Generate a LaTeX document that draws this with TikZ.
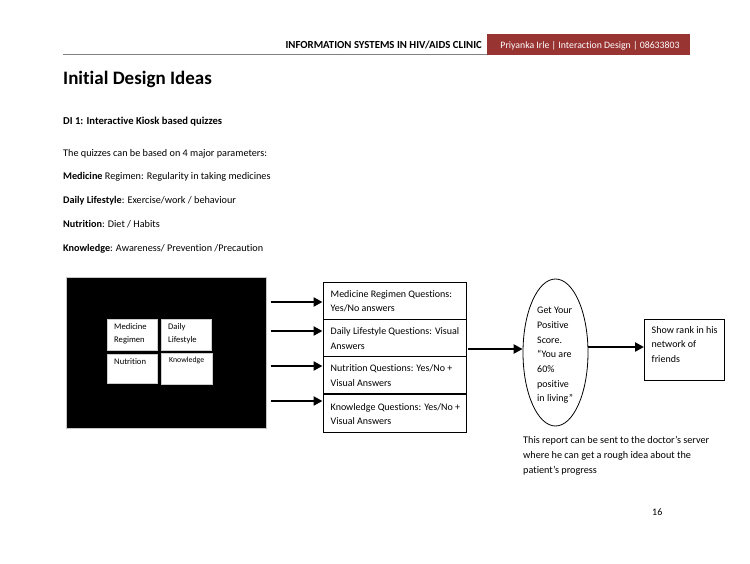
\documentclass[tikz,border=0pt]{standalone}
\usepackage{fontspec}
\setmainfont{Carlito}[Ligatures=NoCommon]
\usetikzlibrary{arrows.meta,shapes.geometric}
\definecolor{hdrred}{RGB}{152,52,50}
\begin{document}
\begin{tikzpicture}[x=1pt,y=-1pt,
  txt/.style={anchor=base west,inner sep=0pt,font=\fontsize{10.2}{12}\selectfont},
  qbox/.style={draw,line width=0.8pt,minimum width=143pt,minimum height=37pt,anchor=north west,inner sep=0pt},
  qtxt/.style={anchor=west,inner sep=0pt,align=left,font=\fontsize{10}{14.5}\selectfont},
  wbox/.style={fill=white,draw=gray!40,line width=0.4pt,anchor=north west,inner sep=0pt},
  btxt/.style={anchor=north west,inner sep=0pt,align=left,font=\fontsize{8.6}{13}\selectfont},
  arr/.style={line width=2.6pt,-{Triangle[length=9pt,width=9pt]}}
]
\useasboundingbox (0,0) rectangle (750,563);
% header
\draw[gray,line width=0.8pt] (63,54.5) -- (487,54.5);
\node[anchor=base east,inner sep=0pt,font=\fontsize{10.8}{12}\selectfont\bfseries] (hdr) at (482,48.5) {INFORMATION SYSTEMS IN HIV/AIDS CLINIC};
\node[fill=hdrred,anchor=north west,minimum width=203pt,minimum height=21pt,inner sep=0pt] (red) at (487,34) {};
\node[anchor=base,inner sep=0pt,text=white,font=\fontsize{9.8}{11}\selectfont] (redtxt) at (590,48.5) {Priyanka Irle | Interaction Design | 08633803};
% title and text
\node[anchor=base west,inner sep=0pt,font=\fontsize{19}{21}\selectfont\bfseries] (title) at (63,84) {Initial Design Ideas};
\node[anchor=base west,inner sep=0pt,font=\fontsize{10.6}{12}\selectfont\bfseries] (di) at (63,124) {DI 1: Interactive Kiosk based quizzes};
\node[txt] (l1) at (63,156) {The quizzes can be based on 4 major parameters:};
\node[txt] (l2) at (63,179) {\textbf{Medicine} Regimen: Regularity in taking medicines};
\node[txt] (l3) at (63,203) {\textbf{Daily Lifestyle}: Exercise/work / behaviour};
\node[txt] (l4) at (63,227) {\textbf{Nutrition}: Diet / Habits};
\node[txt] (l5) at (63,251) {\textbf{Knowledge}: Awareness/ Prevention /Precaution};
% kiosk
\node[fill=black,draw=gray!45,line width=1pt,anchor=north west,minimum width=200pt,minimum height=151pt,inner sep=0pt] (kiosk) at (66,277) {};
\node[wbox,minimum width=50pt,minimum height=31pt] (b1) at (107,319) {};
\node[wbox,minimum width=50pt,minimum height=31pt] (b2) at (161,319) {};
\node[wbox,minimum width=50pt,minimum height=29pt] (b3) at (107,354) {};
\node[wbox,minimum width=51pt,minimum height=31pt] (b4) at (161,353) {};
\node[btxt] (t1) at (114,323) {Medicine\\Regimen};
\node[btxt] (t2) at (168,323) {Daily\\Lifestyle};
\node[btxt] (t3) at (114,358) {Nutrition};
\node[btxt,font=\fontsize{7.8}{10}\selectfont] (t4) at (169,357) {Knowledge};
% question boxes
\node[qbox] (q1) at (322.5,282) {};
\node[qbox] (q2) at (322.5,319) {};
\node[qbox] (q3) at (322.5,356) {};
\node[qbox,minimum height=38pt] (q4) at (322.5,394) {};
\node[qtxt] (q1t) at ([xshift=8pt,yshift=-0.5pt]q1.west) {Medicine Regimen Questions:\\Yes/No answers};
\node[qtxt] (q2t) at ([xshift=8pt,yshift=-0.5pt]q2.west) {Daily Lifestyle Questions: Visual\\Answers};
\node[qtxt] (q3t) at ([xshift=8pt,yshift=-0.5pt]q3.west) {Nutrition Questions: Yes/No +\\Visual Answers};
\node[qtxt] (q4t) at ([xshift=8pt,yshift=-0.5pt]q4.west) {Knowledge Questions: Yes/No +\\Visual Answers};
% arrows kiosk -> questions
\draw[arr] ([xshift=4pt]kiosk.east |- 0,302) -- (q1.west |- 0,302);
\draw[arr] ([xshift=4pt]kiosk.east |- 0,331) -- (q2.west |- 0,331);
\draw[arr] ([xshift=4pt]kiosk.east |- 0,366) -- (q3.west |- 0,366);
\draw[arr] ([xshift=4pt]kiosk.east |- 0,401) -- (q4.west |- 0,401);
% ellipse
\node[ellipse,draw,line width=0.8pt,minimum width=65pt,minimum height=147pt,inner sep=0pt] (ell) at (555.5,352.5) {};
\node[anchor=north west,inner sep=0pt,align=left,font=\fontsize{10}{14.7}\selectfont] (elltxt) at (537,307) {Get Your\\Positive\\Score.\\“You are\\60\%\\positive\\in living”};
\draw[arr] ([xshift=2pt]q2.east |- 0,349) -- (ell.west |- 0,349);
% rank box
\node[draw,line width=0.8pt,anchor=north west,minimum width=80pt,minimum height=61pt,inner sep=0pt] (rank) at (644,319) {};
\node[anchor=north west,inner sep=0pt,align=left,font=\fontsize{10}{14.3}\selectfont] (ranktxt) at (651.5,326.5) {Show rank in his\\network of\\friends};
\draw[arr] (ell.east |- 0,347) -- (rank.west |- 0,347);
% note
\node[anchor=north west,inner sep=0pt,align=left,font=\fontsize{10.2}{15.3}\selectfont] (note) at (523,436) {This report can be sent to the doctor’s server\\where he can get a rough idea about the\\patient’s progress};
\node[anchor=base west,inner sep=0pt,font=\fontsize{10}{12}\selectfont] (pg) at (652,515) {16};
\end{tikzpicture}
\end{document}
